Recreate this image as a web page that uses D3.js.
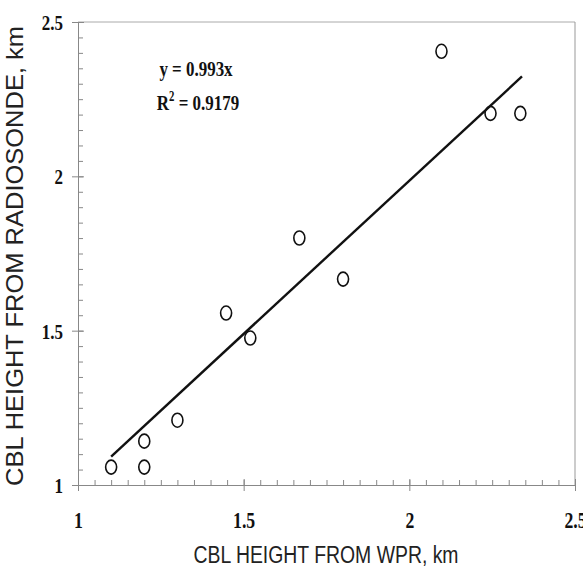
<!DOCTYPE html>
<html>
<head>
<meta charset="utf-8">
<script src="https://cdn.jsdelivr.net/npm/d3@7"></script>
<style>
  html, body { margin: 0; padding: 0; background: #fff; }
  svg { display: block; }
</style>
</head>
<body>
<svg id="chart" width="583" height="570"></svg>
<script>
// ---- data ----
const wprHeight = [1.10, 1.20, 1.20, 1.30, 1.447, 1.52, 1.668, 1.80, 2.097, 2.245, 2.335];
const sondeHeight = [1.058, 1.142, 1.058, 1.21, 1.557, 1.476, 1.80, 1.667, 2.405, 2.204, 2.204];
const fitSlope = 0.993;
const fitRange = [1.10, 2.34];
const xTickValues = [1, 1.5, 2, 2.5];
const yTickValues = [1, 1.5, 2, 2.5];
const equationText = "y = 0.993x";
const r2Value = "0.9179";

// ---- layout ----
const svg = d3.select("#chart");
const mLeft = 78, mRight = 575, mTop = 22, mBottom = 485;
const x = d3.scaleLinear().domain([1, 2.5]).range([mLeft, mRight]);
const y = d3.scaleLinear().domain([1, 2.5]).range([mBottom, mTop]);
const axisColor = "#888";
const squeeze = 0.77;
const serif = "'Liberation Serif', 'Times New Roman', serif";
const sans = "'Liberation Sans', Arial, sans-serif";

// frame (top and right borders)
svg.append("line").attr("x1", mLeft).attr("x2", mRight).attr("y1", mTop).attr("y2", mTop)
  .attr("stroke", "#aaa").attr("stroke-width", 1);
svg.append("line").attr("x1", mRight).attr("x2", mRight).attr("y1", mTop).attr("y2", mBottom)
  .attr("stroke", "#999").attr("stroke-width", 1);

// minor ticks
const minorX = d3.range(1, 2.5001, 0.05);
const minorY = d3.range(1, 2.5001, 0.05);

const xAxisG = svg.append("g").attr("transform", `translate(0,${mBottom})`)
  .call(d3.axisBottom(x).tickValues(minorX).tickSize(-5).tickFormat(""));
xAxisG.select(".domain").attr("stroke", axisColor);
xAxisG.selectAll(".tick line").attr("stroke", axisColor);

const xMajor = svg.append("g").attr("transform", `translate(0,${mBottom})`)
  .call(d3.axisBottom(x).tickValues(xTickValues).tickSizeInner(6).tickSizeOuter(0)
    .tickFormat(d => d3.format("")(d)));
xMajor.select(".domain").remove();
xMajor.selectAll(".tick line").attr("stroke", axisColor).attr("y1", -6);
xMajor.selectAll(".tick text")
  .attr("y", 0).attr("dy", null)
  .attr("transform", `translate(0,43) scale(${squeeze},1)`)
  .attr("font-family", serif)
  .attr("font-weight", "bold").attr("font-size", 23).attr("fill", "#111");

const yAxisG = svg.append("g").attr("transform", `translate(${mLeft},0)`)
  .call(d3.axisLeft(y).tickValues(minorY).tickSize(-5).tickFormat(""));
yAxisG.select(".domain").attr("stroke", axisColor);
yAxisG.selectAll(".tick line").attr("stroke", axisColor);

const yMajor = svg.append("g").attr("transform", `translate(${mLeft},0)`)
  .call(d3.axisLeft(y).tickValues(yTickValues).tickSizeInner(6).tickSizeOuter(0)
    .tickFormat(d => d3.format("")(d)));
yMajor.select(".domain").remove();
yMajor.selectAll(".tick line").attr("stroke", axisColor).attr("x1", 6);
yMajor.selectAll(".tick text")
  .attr("x", 0).attr("dy", "0.34em")
  .attr("transform", `translate(-15,0) scale(${squeeze},1)`)
  .attr("font-family", serif)
  .attr("font-weight", "bold").attr("font-size", 22).attr("fill", "#111");

// fit line
svg.append("line")
  .attr("x1", x(fitRange[0])).attr("y1", y(fitSlope * fitRange[0]))
  .attr("x2", x(fitRange[1])).attr("y2", y(fitSlope * fitRange[1]))
  .attr("stroke", "#111").attr("stroke-width", 2.4);

// points
svg.append("g").selectAll("ellipse")
  .data(wprHeight.map((v, i) => [v, sondeHeight[i]]))
  .join("ellipse")
  .attr("cx", d => x(d[0])).attr("cy", d => y(d[1]))
  .attr("rx", 5.5).attr("ry", 7)
  .attr("fill", "none").attr("stroke", "#111").attr("stroke-width", 1.6);

// equation
const eq = svg.append("g")
  .attr("font-family", serif)
  .attr("font-weight", "bold").attr("font-size", 22).attr("fill", "#111")
  .attr("text-anchor", "middle");
eq.append("text").attr("transform", `translate(196,76) scale(${squeeze},1)`).text(equationText);
const r2 = eq.append("text").attr("transform", `translate(198,110) scale(${squeeze},1)`);
r2.append("tspan").text("R");
r2.append("tspan").attr("dy", -9).attr("font-size", 14).text("2");
r2.append("tspan").attr("dy", 9).text(" = " + r2Value);

// axis titles
svg.append("text")
  .attr("transform", `translate(326,563) scale(${squeeze},1)`)
  .attr("text-anchor", "middle")
  .attr("font-family", sans)
  .attr("font-size", 24).attr("fill", "#222")
  .attr("textLength", 265 / squeeze).attr("lengthAdjust", "spacingAndGlyphs")
  .text("CBL HEIGHT FROM WPR, km");

svg.append("text")
  .attr("transform", "translate(23,256) rotate(-90)")
  .attr("text-anchor", "middle")
  .attr("font-family", sans)
  .attr("font-size", 24).attr("fill", "#222")
  .attr("textLength", 460).attr("lengthAdjust", "spacingAndGlyphs")
  .text("CBL HEIGHT FROM RADIOSONDE, km");
</script>
</body>
</html>
